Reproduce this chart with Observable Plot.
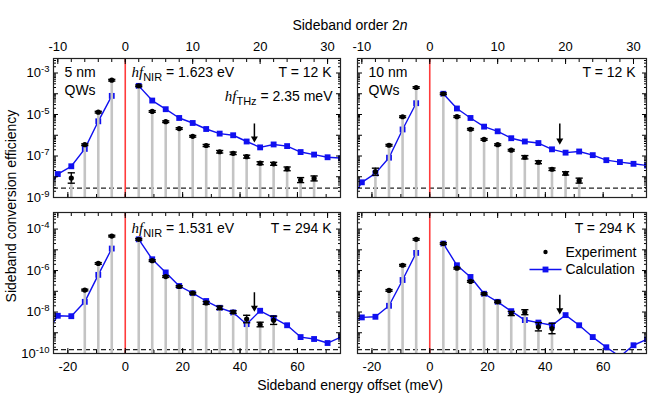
<!DOCTYPE html>
<html><head><meta charset="utf-8">
<script src="https://cdn.jsdelivr.net/npm/d3@7"></script>
<script src="https://cdn.jsdelivr.net/npm/@observablehq/plot@0.6"></script>
<style>
body{margin:0;background:#fff;}
#chart{position:relative;width:670px;height:395px;font-family:"Liberation Sans",Arial,Helvetica,sans-serif;color:#000;background:#fff;}
#chart svg{position:absolute;left:0;top:0;}
.lbl{position:absolute;font-size:13px;white-space:nowrap;line-height:1;}
</style></head><body><div id="chart"></div>
<script>
// ---- data ----
const hfTHz = 2.35; // meV per sideband order
const calcOrders = [-12,-10,-8,-6,-4,-2,2,4,6,8,10,12,14,16,18,20,22,24,26,28,30,32];
const calc5nm12K  = [1.4e-9,1.35e-8,3.2e-8,2.2e-7,4.7e-6,7.9e-5,2.4e-4,4.7e-5,1.8e-5,6.8e-6,3.9e-6,2.0e-6,1.2e-6,1.0e-6,5.0e-7,2.6e-7,3.6e-7,3.0e-7,1.55e-7,1.17e-7,8.7e-8,7.9e-8];
const calc10nm12K = [5e-10,5.4e-9,1.45e-8,8.3e-8,1.9e-6,3.5e-5,1.0e-4,1.95e-5,6.8e-6,2.6e-6,1.55e-6,7.2e-7,5.0e-7,4.2e-7,2.1e-7,1.45e-7,1.65e-7,1.1e-7,6.3e-8,5.1e-8,4.2e-8,3.5e-8];
const calc5nm294K = [7e-10,6.6e-9,6.3e-9,3.1e-8,6.2e-7,1.15e-5,3.2e-5,3.5e-6,8.1e-7,1.8e-7,8.1e-8,3.4e-8,1.6e-8,9.5e-9,2.6e-9,1.15e-8,5.2e-9,2.3e-9,6.2e-10,5.0e-10,3.2e-10,6.3e-10];
const calc10nm294K= [2.8e-9,5.5e-9,5.9e-9,2.0e-8,3.5e-7,7.1e-6,2.0e-5,1.8e-6,4.9e-7,7.6e-8,3.1e-8,1.1e-8,4.1e-9,3.1e-9,2.3e-9,7.1e-9,2.3e-9,6.2e-10,2.0e-10,7.1e-11,2.5e-10,4.8e-10];

const expOrders5nm12K = [-8,-6,-4,-2,2,4,6,8,10,12,14,16,18,20,22,24,26,28];
const exp5nm12K = [8.7e-9,3.5e-7,1.3e-5,4.5e-4,2.4e-4,1.4e-5,4.5e-6,2.1e-6,8.9e-7,3.2e-7,1.6e-7,1.35e-7,9.3e-8,4.5e-8,4.2e-8,2.4e-8,6.9e-9,8.3e-9];
const err5nm12K = [0.25,0.04,0.04,0.04,0.04,0.04,0.04,0.04,0.04,0.05,0.06,0.06,0.07,0.07,0.07,0.09,0.12,0.12]; // decades

const expOrders10nm12K = [-8,-6,-4,-2,2,4,6,8,10,12,14,16,18,20,22];
const exp10nm12K = [1.75e-8,3.3e-7,7.8e-6,2.0e-4,1.0e-4,7.9e-6,1.95e-6,6.3e-7,3.5e-7,1.9e-7,8.7e-8,5.0e-8,2.3e-8,1.45e-8,6.5e-9];
const err10nm12K = [0.17,0.04,0.04,0.04,0.04,0.04,0.04,0.04,0.04,0.04,0.08,0.07,0.06,0.08,0.12];

const expOrders5nm294K = [-6,-4,-2,2,4,6,8,10,12,14,16,18,20,22];
const exp5nm294K = [1.15e-7,2.2e-6,4.6e-5,3.2e-5,3.0e-6,5.1e-7,1.7e-7,8.1e-8,2.75e-8,1.6e-8,1.0e-8,4.6e-9,2.5e-9,4.0e-9];
const err5nm294K = [0.04,0.04,0.04,0.04,0.04,0.04,0.04,0.04,0.07,0.08,0.06,0.18,0.11,0.2];

const expOrders10nm294K = [-6,-4,-2,2,4,6,8,10,12,14,16,18];
const exp10nm294K = [1.1e-7,1.8e-6,3.2e-5,2.0e-5,1.3e-6,3.0e-7,7.6e-8,3.1e-8,8.5e-9,9.8e-9,1.95e-9,1.6e-9];
const err10nm294K = [0.04,0.04,0.04,0.04,0.04,0.04,0.04,0.04,0.1,0.12,0.2,0.25];

const noiseFloor12K = 2.8e-9, noiseFloor294K = 1.55e-10;
const arrowEnergy = 45; // meV
const xDomain = [-25, 75];
const topOrderTicks = [-10, 0, 10, 20, 30];
const bottomTicks = [-20, 0, 20, 40, 60];
const yLabelTicksTop = [1e-3, 1e-5, 1e-7, 1e-9];
const yLabelTicksBottom = [1e-4, 1e-6, 1e-8, 1e-10];
const yDomainTop = [1e-9, 5.0e-3];
const yDomainBottom = [1e-10, 6.3e-4];

// ---- drawing ----
const FONT = '"Liberation Sans", Arial, Helvetica, sans-serif';
const BLUE = "#1010f0", RED = "#ff3b3b", GRAY = "#c4c4c4";
const hbar = {draw(ctx, size) { const w = Math.sqrt(size / Math.PI); ctx.moveTo(-w, 0); ctx.lineTo(w, 0); }};
const chart = document.getElementById("chart");

function logTicks([d0, d1]) {
  const all = [];
  for (let e = Math.floor(Math.log10(d0)) - 1; e <= Math.ceil(Math.log10(d1)); e++)
    for (let k = 1; k < 10; k++) { const v = k * Math.pow(10, e); if (v >= d0 * 0.999 && v <= d1 * 1.001) all.push({v, major: k === 1}); }
  return {major: all.filter(d => d.major).map(d => d.v), minor: all.filter(d => !d.major).map(d => d.v)};
}

function panel(o) {
  const [L, T, R, B] = o.frame;
  const [d0] = o.yDomain;
  const calc = calcOrders.map((k, i) => ({x: k * hfTHz, y: o.calc[i], side: k < 0 ? "anti-Stokes" : "Stokes"}));
  const exp = o.expOrders.map((k, i) => ({x: k * hfTHz, y: o.exp[i], lo: o.exp[i] * Math.pow(10, -o.err[i]), hi: o.exp[i] * Math.pow(10, o.err[i])}));
  const lt = logTicks(o.yDomain);
  const orderMinor = d3.range(-12, 34, 2).map(k => k * hfTHz).filter(v => v >= xDomain[0] && v <= xDomain[1]);
  const orderMajor = topOrderTicks.map(k => k * hfTHz);
  const meVMinor = d3.range(-20, 75, 10);
  const none = () => "";
  const marks = [
    Plot.ruleY([o.floor], {stroke: "#222", strokeWidth: 1.2, strokeDasharray: "5,3"}),
    Plot.ruleX([0], {stroke: RED, strokeWidth: 1.6}),
    Plot.line(calc, {x: "x", y: "y", z: "side", stroke: BLUE, strokeWidth: 1.4, clip: true}),
    Plot.dot(calc, {x: "x", y: "y", symbol: "square", fill: BLUE, r: 3.3, clip: true}),
    Plot.ruleX(exp, {x: "x", y1: d0, y2: "y", stroke: GRAY, strokeWidth: 2.6}),
    Plot.ruleX(exp, {x: "x", y1: "lo", y2: "hi", stroke: "#000", strokeWidth: 1.3}),
    Plot.dot(exp, {x: "x", y: "lo", symbol: hbar, stroke: "#000", strokeWidth: 1.4, r: 3.6}),
    Plot.dot(exp, {x: "x", y: "hi", symbol: hbar, stroke: "#000", strokeWidth: 1.4, r: 3.6}),
    Plot.dot(exp, {x: "x", y: "y", r: 2.6, fill: "#000"}),
    Plot.ruleX([arrowEnergy], {y1: o.arrow[0], y2: o.arrow[1], stroke: "#000", strokeWidth: 1.5}),
    Plot.dot([arrowEnergy], {x: d => d, y: () => o.arrow[1], symbol: "triangle", rotate: 180, fill: "#000", r: 2.6}),
    // inward ticks
    Plot.axisY({anchor: "left", ticks: lt.major, tickSize: 5, dx: 5, tickFormat: none, label: null}),
    Plot.axisY({anchor: "left", ticks: lt.minor, tickSize: 3, dx: 3, tickFormat: none, label: null}),
    Plot.axisY({anchor: "right", ticks: lt.major, tickSize: 5, dx: -5, tickFormat: none, label: null}),
    Plot.axisY({anchor: "right", ticks: lt.minor, tickSize: 3, dx: -3, tickFormat: none, label: null}),
    Plot.axisX({anchor: "top", ticks: orderMajor, tickSize: 5, dy: 5, tickFormat: none, label: null}),
    Plot.axisX({anchor: "top", ticks: orderMinor, tickSize: 3, dy: 3, tickFormat: none, label: null}),
    Plot.axisX({anchor: "bottom", ticks: bottomTicks, tickSize: 5, dy: -5, tickFormat: none, label: null}),
    Plot.axisX({anchor: "bottom", ticks: meVMinor, tickSize: 3, dy: -3, tickFormat: none, label: null}),
    Plot.frame({stroke: "#222", strokeWidth: 1.2})
  ];
  if (o.leftLabels) marks.push(Plot.axisY({anchor: "left", ticks: o.leftLabels, tickSize: 0, tickPadding: 4, label: null, fontSize: 13,
    tickFormat: d => "10^" + Math.round(Math.log10(d))}));
  if (o.topLabels) marks.push(Plot.axisX({anchor: "top", ticks: orderMajor, tickSize: 0, tickPadding: 8, label: null, fontSize: 13,
    tickFormat: d => String(Math.round(d / hfTHz))}));
  if (o.bottomLabels) marks.push(Plot.axisX({anchor: "bottom", ticks: bottomTicks, tickSize: 0, tickPadding: 8, label: null, fontSize: 13,
    tickFormat: d => String(d)}));
  for (const t of o.texts) marks.push(Plot.text([t.s], {text: d => d, frameAnchor: t.a, dx: t.dx, dy: t.dy,
    textAnchor: t.ta, lineAnchor: "middle", fontSize: 14, fill: "#000"}));
  if (o.legend) {
    marks.push(
      Plot.dot([0], {frameAnchor: "top-right", dx: -101, dy: 39.5, r: 2.2, fill: "#000"}),
      Plot.text(["Experiment"], {text: d => d, frameAnchor: "top-right", dx: -81, dy: 40, textAnchor: "start", lineAnchor: "middle", fontSize: 14}),
      Plot.dot([0], {frameAnchor: "top-right", dx: -101, dy: 57, symbol: hbar, r: 16, stroke: BLUE, strokeWidth: 1.4}),
      Plot.dot([0], {frameAnchor: "top-right", dx: -101, dy: 57, symbol: "square", r: 3.3, fill: BLUE}),
      Plot.text(["Calculation"], {text: d => d, frameAnchor: "top-right", dx: -81, dy: 57.5, textAnchor: "start", lineAnchor: "middle", fontSize: 14})
    );
  }
  const svg = Plot.plot({
    width: 670, height: 395,
    marginLeft: L, marginRight: 670 - R, marginTop: T, marginBottom: 395 - B,
    x: {domain: xDomain},
    y: {type: "log", domain: o.yDomain},
    style: {background: "transparent", fontFamily: FONT, fontSize: "13px", overflow: "visible", color: "#000"},
    marks
  });
  svg.querySelectorAll("text").forEach(t => {
    const s = t.textContent;
    let m;
    if ((m = s.match(/^10\^(-?\d+)$/))) {
      t.innerHTML = `10<tspan dy="-0.5em" font-size="9.5">${m[1]}</tspan>`;
    } else if ((m = s.match(/^hf_(\w+)(.*)$/))) {
      t.innerHTML = `<tspan font-family="Liberation Serif, Times New Roman, serif" font-style="italic" font-size="15">hf</tspan><tspan dy="4" font-size="11">${m[1]}</tspan><tspan dy="-4">${m[2]}</tspan>`;
    }
  });
  chart.appendChild(svg);
}

panel({frame: [53, 58, 340, 197], yDomain: yDomainTop, calc: calc5nm12K, expOrders: expOrders5nm12K, exp: exp5nm12K, err: err5nm12K,
  floor: noiseFloor12K, arrow: [3.5e-6, 7e-7], leftLabels: yLabelTicksTop, topLabels: true,
  texts: [{s: "5 nm", a: "top-left", dx: 11, dy: 14, ta: "start"}, {s: "QWs", a: "top-left", dx: 11, dy: 32, ta: "start"},
          {s: "hf_NIR = 1.623 eV", a: "top-left", dx: 78, dy: 14, ta: "start"},
          {s: "T = 12 K", a: "top-right", dx: -9, dy: 14, ta: "end"},
          {s: "hf_THz = 2.35 meV", a: "top-right", dx: -8, dy: 38, ta: "end"}]});
panel({frame: [357, 58, 646, 197], yDomain: yDomainTop, calc: calc10nm12K, expOrders: expOrders10nm12K, exp: exp10nm12K, err: err10nm12K,
  floor: noiseFloor12K, arrow: [3.5e-6, 5.5e-7], topLabels: true,
  texts: [{s: "10 nm", a: "top-left", dx: 11, dy: 14, ta: "start"}, {s: "QWs", a: "top-left", dx: 11, dy: 32, ta: "start"},
          {s: "T = 12 K", a: "top-right", dx: -11, dy: 14, ta: "end"}]});
panel({frame: [53, 212, 340, 353], yDomain: yDomainBottom, calc: calc5nm294K, expOrders: expOrders5nm294K, exp: exp5nm294K, err: err5nm294K,
  floor: noiseFloor294K, arrow: [8.5e-8, 1.6e-8], leftLabels: yLabelTicksBottom, bottomLabels: true,
  texts: [{s: "hf_NIR = 1.531 eV", a: "top-left", dx: 78, dy: 16, ta: "start"},
          {s: "T = 294 K", a: "top-right", dx: -9, dy: 16, ta: "end"}]});
panel({frame: [357, 212, 646, 353], yDomain: yDomainBottom, calc: calc10nm294K, expOrders: expOrders10nm294K, exp: exp10nm294K, err: err10nm294K,
  floor: noiseFloor294K, arrow: [6.5e-8, 1.2e-8], bottomLabels: true, legend: true,
  texts: [{s: "T = 294 K", a: "top-right", dx: -11, dy: 16, ta: "end"}]});

// axis titles
function label(html, style) { const d = document.createElement("div"); d.className = "lbl"; d.innerHTML = html; Object.assign(d.style, style); chart.appendChild(d); return d; }
label('Sideband order 2<i>n</i>', {left: "350px", top: "18px", transform: "translateX(-50%)", fontSize: "14px"});
label('Sideband energy offset (meV)', {left: "350px", top: "378px", transform: "translateX(-50%)", fontSize: "14px"});
label('Sideband conversion efficiency', {left: "11px", top: "206px", transform: "translate(-50%,-50%) rotate(-90deg)", fontSize: "14px"});
</script></body></html>
